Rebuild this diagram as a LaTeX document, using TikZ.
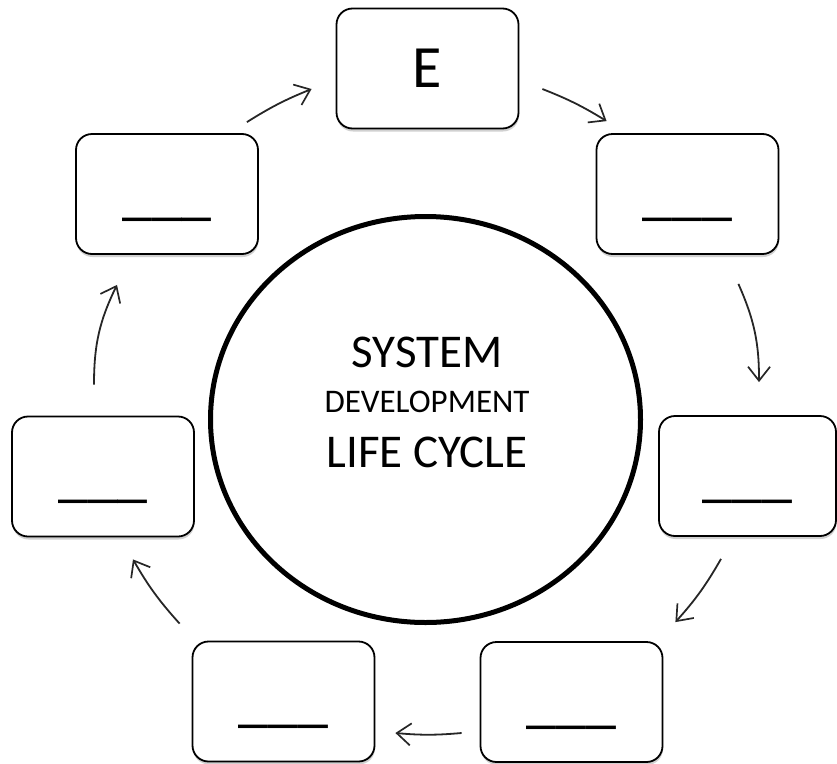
\documentclass[tikz,border=0pt]{standalone}
\usepackage{fontspec}
\setmainfont{Carlito}
\usetikzlibrary{arrows.meta, positioning, shapes.geometric, shadows}
\tikzset{
  sdlc/.style={
    x=1pt, y=1pt,
    >={Straight Barb[length=14pt, width=22pt, line width=1.7pt]},
    line width=1.5pt,
  },
  phase/.style={
    draw=black, line width=1.8pt, fill=white, rounded corners=16pt,
    minimum width=182pt, minimum height=120pt, inner sep=0pt,
    font=\fontsize{60}{72}\selectfont, text height=38pt, text depth=0pt,
    drop shadow={shadow xshift=0.5pt, shadow yshift=-3pt, opacity=0.18, fill=black},
  },
  hub/.style={
    draw=black, line width=5pt, ellipse, inner sep=0pt,
    minimum width=430pt, minimum height=406pt,
  },
  title/.style={font=\fontsize{47}{56}\selectfont, inner sep=0pt, anchor=base},
  subtitle/.style={font=\fontsize{33}{40}\selectfont, inner sep=0pt, anchor=base},
  flow/.style={->, draw=black!85, line width=1.8pt},
}

\begin{document}
\begin{tikzpicture}[sdlc]
  \useasboundingbox (0,0) rectangle (837,-763);

  \node[hub] (cycle) at (425.5,-419.5) {};
  \node[title] (sys) at (427,-367) {SYSTEM};
  \node[subtitle] (dev) at (427,-412) {DEVELOPMENT};
  \node[title] (life) at (427,-467) {LIFE CYCLE};

  \node[phase] (e) at (427.5,-68.5) {E};
  \node[phase] (tr) at (687.5,-194) {\_\_\_};
  \node[phase, minimum width=177pt] (r) at (747.5,-476) {\_\_\_};
  \node[phase] (br) at (571.5,-702) {\_\_\_};
  \node[phase] (bl) at (283.5,-701.5) {\_\_\_};
  \node[phase] (l) at (103,-476.5) {\_\_\_};
  \node[phase] (tl) at (167,-194) {\_\_\_};

  \draw[flow] ([xshift=-12pt, yshift=11pt]tl.north east) to[bend left=5] ([xshift=-24pt, yshift=-20.5pt]e.west);
  \draw[flow] ([xshift=23pt, yshift=-20.5pt]e.east) to[bend left=5] ([xshift=11pt, yshift=12pt]tr.north west);
  \draw[flow] ([xshift=-41pt, yshift=-29pt]tr.south east) to[bend left=12] ([xshift=11.5pt, yshift=33pt]r.north);
  \draw[flow] ([xshift=-26.5pt, yshift=-22pt]r.south) to[bend left=6] ([xshift=12pt, yshift=19pt]br.north east);
  \draw[flow] ([xshift=-18pt, yshift=-31pt]br.west) to[bend left=5] ([xshift=20pt, yshift=-31.5pt]bl.east);
  \draw[flow] ([xshift=-12pt, yshift=17pt]bl.north west) to[bend left=6] ([xshift=30pt, yshift=-22pt]l.south);
  \draw[flow] ([xshift=-9pt, yshift=31pt]l.north) to[bend left=13] ([xshift=-50pt, yshift=-30pt]tl.south);
\end{tikzpicture}
\end{document}
